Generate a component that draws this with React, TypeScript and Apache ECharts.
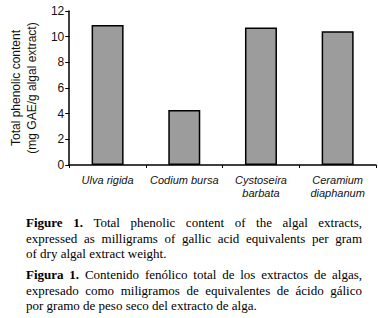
import React, { useEffect, useRef } from "react";
import * as echarts from "echarts";

const categories = ["Ulva rigida", "Codium bursa", "Cystoseira\nbarbata", "Ceramium\ndiaphanum"];
const values = [10.9, 4.28, 10.72, 10.43];
const yMin = 0;
const yMax = 12;
const yInterval = 2;
const yName = "Total phenolic content\n(mg GAE/g algal extract)";

type Word = { t: string; b?: boolean };
const captionLines: { words: Word[]; justify: boolean }[] = [
  {
    words: [
      { t: "Figure", b: true },
      { t: "1.", b: true },
      ...("Total phenolic content of the algal extracts,".split(" ").map((t) => ({ t }))),
    ],
    justify: true,
  },
  { words: "expressed as milligrams of gallic acid equivalents per gram".split(" ").map((t) => ({ t })), justify: true },
  { words: "of dry algal extract weight.".split(" ").map((t) => ({ t })), justify: false },
  {
    words: [
      { t: "Figura", b: true },
      { t: "1.", b: true },
      ...("Contenido fenólico total de los extractos de algas,".split(" ").map((t) => ({ t }))),
    ],
    justify: true,
  },
  { words: "expresado como miligramos de equivalentes de ácido gálico".split(" ").map((t) => ({ t })), justify: true },
  { words: "por gramo de peso seco del extracto de alga.".split(" ").map((t) => ({ t })), justify: false },
];

const SERIF = "'Liberation Serif', 'Times New Roman', serif";
const NARROW = "'Liberation Sans Narrow', 'Arial Narrow', 'Liberation Sans', sans-serif";

export default function App() {
  const ref = useRef<HTMLDivElement>(null);
  useEffect(() => {
    document.body.style.margin = "0";
    if (!ref.current) return;
    const chart = echarts.init(ref.current, null, { renderer: "svg" });

    const canvas = document.createElement("canvas");
    const ctx = canvas.getContext("2d")!;
    const fs = 13;
    const left = 26;
    const right = 362;
    const centers = [222.5, 238, 253.5, 274.5, 290, 305.5];
    const graphics: any[] = [];
    captionLines.forEach((line, li) => {
      const widths = line.words.map((w) => {
        ctx.font = `${w.b ? "bold " : ""}${fs}px ${SERIF}`;
        return ctx.measureText(w.t).width;
      });
      ctx.font = `${fs}px ${SERIF}`;
      const space = ctx.measureText(" ").width;
      const total = widths.reduce((a, b) => a + b, 0);
      const gap = line.justify ? (right - left - total) / (line.words.length - 1) : space;
      let x = left;
      line.words.forEach((w, i) => {
        graphics.push({
          type: "text",
          x,
          y: centers[li],
          style: {
            text: w.t,
            font: `${w.b ? "bold " : ""}${fs}px ${SERIF}`,
            fill: "#000",
            align: "left",
            verticalAlign: "middle",
          },
        });
        x += widths[i] + gap;
      });
    });

    chart.setOption({
      animation: false,
      grid: { left: 51, right: 2, top: 11, bottom: 153 },
      xAxis: {
        type: "category",
        data: categories,
        axisLine: { lineStyle: { color: "#000", width: 1.5 } },
        axisTick: { show: true, length: 3, lineStyle: { color: "#000" } },
        axisLabel: {
          color: "#111",
          fontFamily: NARROW,
          fontStyle: "italic",
          fontSize: 11,
          lineHeight: 13,
          margin: 8,
          interval: 0,
        },
      },
      yAxis: {
        type: "value",
        min: yMin,
        max: yMax,
        interval: yInterval,
        name: yName,
        nameLocation: "middle",
        nameGap: 24,
        nameTextStyle: { color: "#111", fontFamily: NARROW, fontSize: 12, lineHeight: 16 },
        axisLine: { show: true, lineStyle: { color: "#000", width: 1.5 } },
        axisTick: { show: true, length: 4, lineStyle: { color: "#000" } },
        axisLabel: { color: "#111", fontFamily: NARROW, fontSize: 12, margin: 5 },
        splitLine: { show: false },
      },
      series: [
        {
          type: "bar",
          data: values,
          barWidth: 32,
          itemStyle: { color: "#9c9c9c", borderColor: "#000", borderWidth: 1.5 },
        },
      ],
      graphic: graphics,
    });
    return () => chart.dispose();
  }, []);
  return <div ref={ref} style={{ width: 378, height: 318, background: "#fff" }} />;
}
